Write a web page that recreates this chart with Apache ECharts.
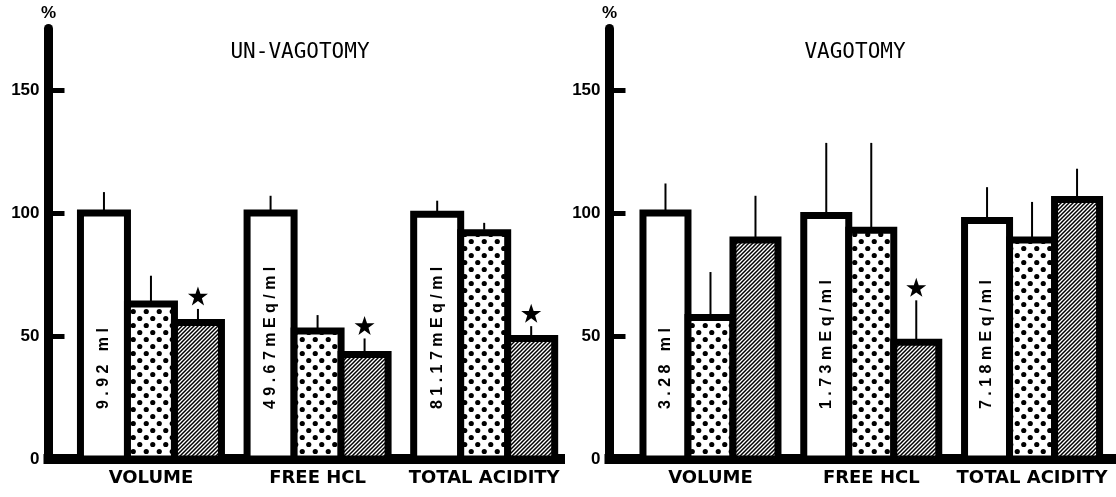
<!DOCTYPE html>
<html><head><meta charset="utf-8">
<script src="https://cdn.jsdelivr.net/npm/echarts@6/dist/echarts.min.js"></script>
<style>html,body{margin:0;padding:0;background:#fff}#c{width:1116px;height:497px}</style>
</head><body><div id="c"></div>
<script>
// ---------- data ----------
const categories = ['VOLUME', 'FREE HCL', 'TOTAL ACIDITY'];
const panelTitles = ['UN-VAGOTOMY', 'VAGOTOMY'];
const yTickValues = [0, 50, 100, 150];
const yMax = 175;

// UN-VAGOTOMY panel (percent of control)
const unvagControl   = [100, 100, 99.5];
const unvagControlSD = [8.5, 7, 5.5];
const unvagDotted    = [63, 52, 92];
const unvagDottedSD  = [11.5, 6.5, 4];
const unvagHatched   = [55.5, 42.5, 49];
const unvagHatchedSD = [5.5, 6.5, 5];
const unvagHatchedSig = [true, true, true];
const unvagControlLabels = ['9.92 ml', '49.67mEq/ml', '81.17mEq/ml'];

// VAGOTOMY panel
const vagControl   = [100, 99, 97];
const vagControlSD = [12, 29.5, 13.5];
const vagDotted    = [57.5, 93, 89];
const vagDottedSD  = [18.5, 35.5, 15.5];
const vagHatched   = [89, 47.5, 105.5];
const vagHatchedSD = [18, 17, 12.5];
const vagHatchedSig = [false, true, false];
const vagControlLabels = ['3.28 ml', '1.73mEq/ml', '7.18mEq/ml'];

// ---------- layout (pixels / axis units) ----------
const layout = [
  { left: 48.5, width: 511.5, barPx: 47, first: 2.18, step: 3.545, titleX: 300 },
  { left: 609.5, width: 506.5, barPx: 45, first: 2.244, step: 3.573, titleX: 855 }
];
const gridTop = 28.5, gridHeight = 430.5;

// ---------- patterns ----------
function dotPattern() {
  const c = document.createElement('canvas'); c.width = 13; c.height = 14;
  const g = c.getContext('2d');
  g.fillStyle = '#fff'; g.fillRect(0, 0, 13, 14);
  g.fillStyle = '#000';
  [[3.25, 3.5], [9.75, 10.5]].forEach(p => { g.beginPath(); g.arc(p[0], p[1], 2.6, 0, Math.PI * 2); g.fill(); });
  return c;
}
function hatchPattern() {
  const s = 4, c = document.createElement('canvas'); c.width = s; c.height = s;
  const g = c.getContext('2d');
  g.fillStyle = '#fff'; g.fillRect(0, 0, s, s);
  g.strokeStyle = '#000'; g.lineWidth = 1.5;
  g.beginPath();
  g.moveTo(-1, s + 1); g.lineTo(s + 1, -1);
  g.moveTo(-1, 1); g.lineTo(1, -1);
  g.moveTo(s - 1, s + 1); g.lineTo(s + 1, s - 1);
  g.stroke();
  return c;
}
const fills = ['#ffffff', { image: dotPattern(), repeat: 'repeat' }, { image: hatchPattern(), repeat: 'repeat' }];
const starPath = 'path://M50,0 L61.8,35.1 L98.1,35.1 L68.8,56.7 L79.4,91.3 L50,70 L20.6,91.3 L31.2,56.7 L1.9,35.1 L38.2,35.1 Z';

const panels = [
  { vals: [unvagControl, unvagDotted, unvagHatched], sds: [unvagControlSD, unvagDottedSD, unvagHatchedSD], sig: unvagHatchedSig, labels: unvagControlLabels },
  { vals: [vagControl, vagDotted, vagHatched], sds: [vagControlSD, vagDottedSD, vagHatchedSD], sig: vagHatchedSig, labels: vagControlLabels }
];

const spaced = t => t.split('').join(' ');

const grids = [], xAxes = [], yAxes = [], series = [], graphics = [];
panels.forEach((P, p) => {
  const L = layout[p];
  grids.push({ left: L.left, top: gridTop, width: L.width, height: gridHeight });
  const centers = categories.map((_, i) => L.first + i * L.step);
  xAxes.push({
    type: 'value', gridIndex: p, min: 0, max: L.width / L.barPx,
    axisLine: { show: true, onZero: false, lineStyle: { color: '#000', width: 10, cap: 'square' } },
    axisTick: { show: false }, splitLine: { show: false },
    axisLabel: {
      customValues: centers,
      formatter: v => categories[Math.round((v - L.first) / L.step)] || '',
      color: '#000', fontSize: 18, fontWeight: 'bold', fontFamily: 'DejaVu Sans', margin: 10
    }
  });
  yAxes.push({
    type: 'value', gridIndex: p, min: 0, max: yMax, interval: 50,
    name: '%', nameLocation: 'end', nameGap: 7,
    nameTextStyle: { color: '#000', fontSize: 17, fontWeight: 'bold', fontFamily: 'Liberation Sans', align: 'center' },
    axisLine: { show: true, lineStyle: { color: '#000', width: 9 } },
    axisTick: { show: true, inside: true, length: 16, customValues: yTickValues, lineStyle: { color: '#000', width: 5 } },
    axisLabel: { customValues: yTickValues, color: '#000', fontSize: 17, fontWeight: 'bold', fontFamily: 'Liberation Sans', margin: 9 },
    splitLine: { show: false }
  });
  const barData = [], errData = [], starData = [];
  categories.forEach((_, i) => {
    for (let k = 0; k < 3; k++) {
      const x = centers[i] + (k - 1);
      const v = P.vals[k][i];
      barData.push([x, v, k, i]);
      errData.push([x, v, v + P.sds[k][i]]);
      if (k === 2 && P.sig[i]) starData.push([x, v + P.sds[k][i]]);
    }
  });
  series.push({
    type: 'custom', xAxisIndex: p, yAxisIndex: p, data: barData, z: 2,
    encode: { x: 0, y: 1 },
    renderItem: (params, api) => {
      const x = api.value(0), v = api.value(1), k = api.value(2), i = api.value(3);
      const tl = api.coord([x - 0.5, v]);
      const br = api.coord([x + 0.5, 0]);
      const children = [{
        type: 'rect',
        shape: { x: tl[0], y: tl[1], width: br[0] - tl[0], height: br[1] - tl[1] },
        style: { fill: fills[k], stroke: '#000', lineWidth: 7 }
      }];
      if (k === 0) {
        children.push({
          type: 'text', x: (tl[0] + br[0]) / 2, y: br[1] - 50, rotation: Math.PI / 2,
          style: { text: spaced(P.labels[i]), align: 'left', verticalAlign: 'middle', font: 'bold 16px "Liberation Sans"', fill: '#000' }
        });
      }
      return { type: 'group', children: children };
    }
  });
  series.push({
    type: 'custom', xAxisIndex: p, yAxisIndex: p, data: errData, z: 3,
    encode: { x: 0, y: [1, 2] },
    renderItem: (params, api) => {
      const a = api.coord([api.value(0), api.value(1)]);
      const b = api.coord([api.value(0), api.value(2)]);
      return { type: 'line', shape: { x1: a[0], y1: a[1] - 3, x2: b[0], y2: b[1] }, style: { stroke: '#000', lineWidth: 2 } };
    }
  });
  series.push({
    type: 'scatter', xAxisIndex: p, yAxisIndex: p, data: starData, z: 4,
    symbol: starPath, symbolSize: [20, 19], symbolOffset: [0, -13],
    itemStyle: { color: '#000', opacity: 1 }, emphasis: { disabled: true }
  });
  graphics.push({
    type: 'text', x: L.titleX, y: 53,
    style: { text: panelTitles[p], fill: '#000', font: '21px "DejaVu Sans Mono"', align: 'center', verticalAlign: 'middle' }
  });
});

const chart = echarts.init(document.getElementById('c'), null, { renderer: 'canvas' });
chart.setOption({
  animation: false,
  backgroundColor: '#fff',
  grid: grids, xAxis: xAxes, yAxis: yAxes, series: series, graphic: graphics,
  tooltip: { show: false }
});
</script>
</body></html>
